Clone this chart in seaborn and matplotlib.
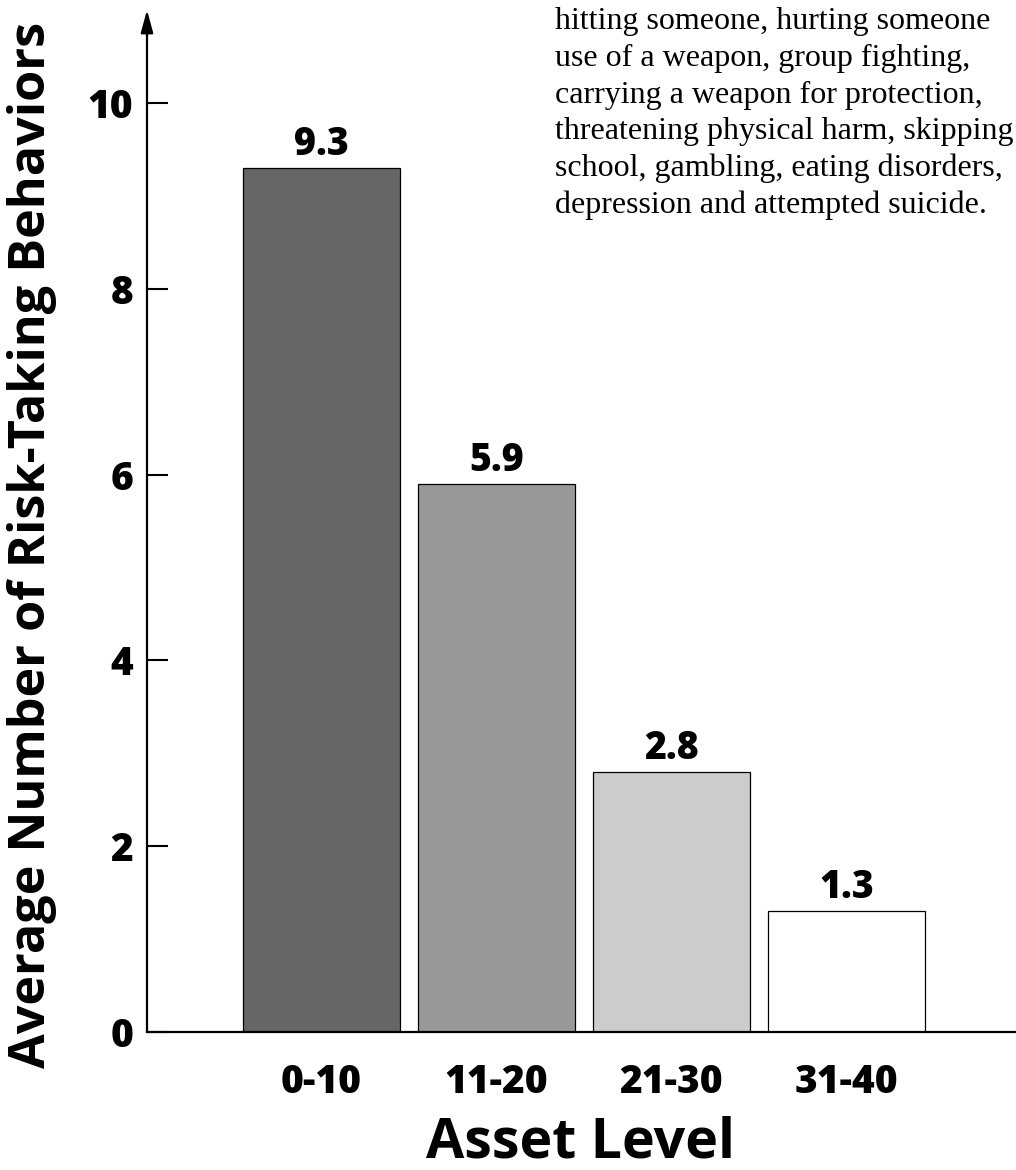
import matplotlib
matplotlib.use("Agg")
import matplotlib.pyplot as plt
import seaborn as sns
import pandas as pd

# ---- data ----
categories = ["0-10", "11-20", "21-30", "31-40"]
values = [9.3, 5.9, 2.8, 1.3]
bar_colors = ["#666666", "#999999", "#cccccc", "#ffffff"]
y_ticks = [0, 2, 4, 6, 8, 10]
note_lines = [
    "hitting someone, hurting someone",
    "use of a weapon, group fighting,",
    "carrying a weapon for protection,",
    "threatening physical harm, skipping",
    "school, gambling, eating disorders,",
    "depression and attempted suicide.",
]
x_title = "Asset Level"
y_title = "Average Number of Risk-Taking Behaviors"

sns.set_theme(style="white")
plt.rcParams["font.family"] = ["Open Sans", "DejaVu Sans"]
plt.rcParams["text.color"] = "black"
plt.rcParams["xtick.color"] = "black"
plt.rcParams["ytick.color"] = "black"

W, H = 1016, 1170
fig = plt.figure(figsize=(W / 100, H / 100), dpi=100)
ax = fig.add_axes([147 / W, 138 / H, 1 - 147 / W, 1022 / H])

df = pd.DataFrame({"level": categories, "value": values})
sns.barplot(data=df, x="level", y="value", hue="level", palette=bar_colors,
            order=categories, hue_order=categories, legend=False,
            edgecolor="black", linewidth=0.9, width=0.897, saturation=1, ax=ax)

HEAVY = 800
ax.set_xlim(-0.997, 3.969)
ax.set_ylim(0, 11)
ax.set_yticks(y_ticks)
ax.set_yticklabels([str(t) for t in y_ticks], fontsize=28, fontweight=HEAVY)
ax.set_xticks(range(len(categories)))
ax.set_xticklabels(categories, fontsize=28, fontweight=HEAVY)
ax.tick_params(axis="y", direction="in", length=15, width=1.5, pad=10,
               left=True, colors="black")
ax.tick_params(axis="x", length=0, pad=22, colors="black")
ax.set_xlabel("")
ax.set_ylabel("")

for s in ["top", "right", "left"]:
    ax.spines[s].set_visible(False)
ax.spines["bottom"].set_linewidth(1.6)
ax.spines["bottom"].set_color("black")

# y axis with arrow
ax.annotate("", xy=(0, 1), xytext=(0, 0), xycoords="axes fraction",
            textcoords="axes fraction",
            arrowprops=dict(arrowstyle="-|>,head_length=0.55,head_width=0.15",
                            lw=1.6, color="black", mutation_scale=25,
                            shrinkA=0, shrinkB=0))

# value labels
for i, v in enumerate(values):
    ax.annotate(f"{v:.1f}", xy=(i, v), xytext=(0, 9.5), textcoords="offset points",
                ha="center", va="baseline", fontsize=27, fontweight=HEAVY)

# titles
fig.text(581 / W, (H - 1158) / H, x_title, ha="center", va="baseline",
         fontsize=40, fontweight="bold")
fig.text(32 / W, (H - 545) / H, y_title, ha="center", va="center",
         rotation=90, fontsize=36.3, fontweight="bold")

# note text (top right)
for k, line in enumerate(note_lines):
    fig.text(555 / W, (H - 29 - k * 36.8) / H, line, ha="left", va="baseline",
             fontsize=23, family=["Liberation Serif", "DejaVu Serif"])

fig.savefig("out.png", dpi=100)
